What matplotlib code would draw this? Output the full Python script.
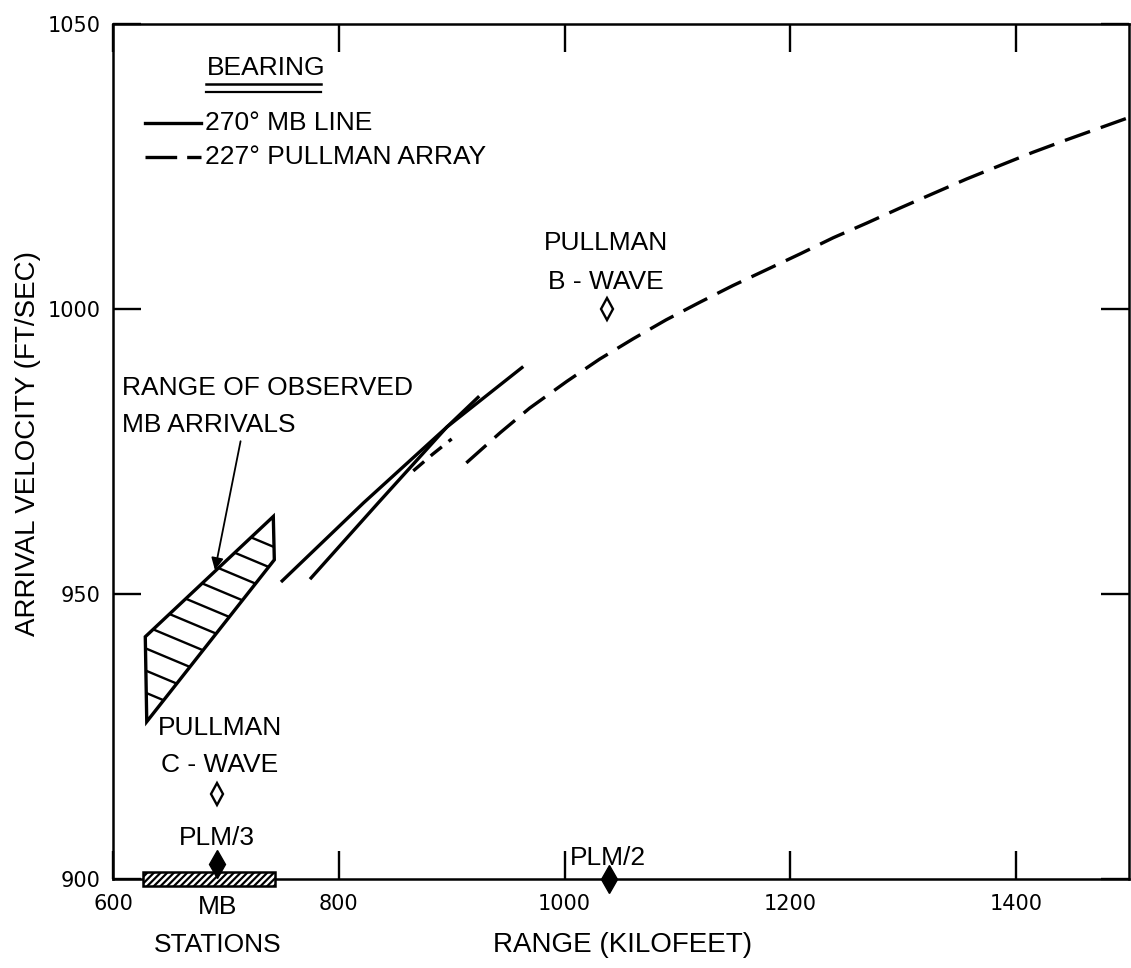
import numpy as np
import matplotlib
matplotlib.use("Agg")
import matplotlib.pyplot as plt
from matplotlib import font_manager as fm
from matplotlib.patches import Polygon, Rectangle

# ---------------- data ----------------
x_ticks = [600, 800, 1000, 1200, 1400]
y_ticks = [900, 950, 1000, 1050]

# 270 deg MB line (two solid curves)
mb_line1_x = [748.8, 822.0, 895.8, 963.4]
mb_line1_y = [952.1, 966.0, 979.3, 989.9]
mb_line2_x = [774.5, 835.0, 895.8, 924.4]
mb_line2_y = [952.6, 966.0, 979.3, 984.7]

# 227 deg Pullman array (dashed)
pull_short_x = [866.0, 883.0, 900.0]
pull_short_y = [971.6, 974.5, 977.2]
pull_long_x = [913, 943, 969, 1002, 1031, 1061, 1090, 1120, 1149, 1179,
               1209, 1238, 1268, 1297, 1327, 1356, 1386, 1415, 1445, 1500]
pull_long_y = [973.0, 978.3, 982.6, 987.3, 991.2, 994.8, 998.1, 1001.2, 1004.1, 1006.9,
               1009.7, 1012.5, 1015.1, 1017.7, 1020.3, 1022.8, 1025.2, 1027.5, 1029.7, 1033.6]

# range of observed MB arrivals (polygon)
obs_x = [628.6, 742.0, 742.9, 629.9]
obs_y = [942.5, 963.6, 956.0, 927.6]

# point observations
b_wave = (1038.0, 1000.0)
c_wave = (692.0, 915.0)
plm3 = (692.0, 902.6)
plm2 = (1039.0, 900.0)

# MB stations extent
mb_stations_x = (626.3, 743.4)

# ---------------- fonts ----------------
names = {f.name for f in fm.fontManager.ttflist}
if "Liberation Sans Narrow" in names:
    LET = ["Liberation Sans Narrow", "DejaVu Sans"]
    K = 1.18
else:
    LET = ["Liberation Sans", "DejaVu Sans"]
    K = 1.0
NUM = ["DejaVu Sans"]
FS = 19.0
FA = 20.0

plt.rcParams["hatch.linewidth"] = 1.6

fig = plt.figure(figsize=(11.31, 9.68), dpi=100)
ax = fig.add_axes([113 / 1131, 89 / 968, 1016 / 1131, 855 / 968])
ax.set_xlim(600, 1500)
ax.set_ylim(900, 1050)
ax.set_xticks(x_ticks)
ax.set_yticks(y_ticks)
ax.tick_params(direction="in", length=20, width=1.7, top=True, right=True,
               labelsize=15, pad=9)
ax.tick_params(axis="x", pad=11)
for lab in ax.get_xticklabels() + ax.get_yticklabels():
    lab.set_family(NUM)
for s in ax.spines.values():
    s.set_linewidth(1.8)


def lt(x, y, s, size=FS, **kw):
    kw.setdefault("ha", "left")
    kw.setdefault("va", "center")
    return ax.text(x, y, s, family=LET, fontsize=size * K, clip_on=False, **kw)


LW = 2.4
ax.plot(mb_line1_x, mb_line1_y, color="black", lw=LW, solid_capstyle="butt")
ax.plot(mb_line2_x, mb_line2_y, color="black", lw=LW, solid_capstyle="butt")
ax.plot(pull_short_x, pull_short_y, color="black", lw=LW, linestyle=(0, (4.3, 2.6)))
ax.plot(pull_long_x, pull_long_y, color="black", lw=LW, linestyle=(0, (8.0, 3.4)),
        clip_on=False)

# polygon with slanted hatching
poly = Polygon(np.column_stack([obs_x, obs_y]), closed=True, facecolor="white",
               edgecolor="black", lw=2.4, joinstyle="miter", zorder=3)
ax.add_patch(poly)
slope = -0.083
xa, xb = 600.0, 760.0
for y0 in np.linspace(932.6, 967.6, 10):
    ln, = ax.plot([xa, xb], [y0 + slope * (xa - 629.9), y0 + slope * (xb - 629.9)],
                  color="black", lw=1.7, zorder=3.5)
    ln.set_clip_path(poly)

# arrow
ax.annotate("", xy=(690.3, 954.2), xytext=(713.0, 976.8),
            arrowprops=dict(arrowstyle="-|>", lw=1.3, color="black",
                            mutation_scale=18, shrinkA=0, shrinkB=0), zorder=5)

# markers
ax.plot(*b_wave, marker="d", ms=11, mfc="white", mec="black", mew=1.7, ls="none")
ax.plot(*c_wave, marker="d", ms=11, mfc="white", mec="black", mew=1.7, ls="none")
ax.plot(*plm3, marker="d", ms=14, mfc="black", mec="black", ls="none", zorder=6)
ax.plot(*plm2, marker="d", ms=14, mfc="black", mec="black", ls="none", zorder=6,
        clip_on=False)

# MB stations bar
ax.add_patch(Rectangle((mb_stations_x[0], 898.8), mb_stations_x[1] - mb_stations_x[0], 2.4,
                       facecolor="white", edgecolor="black", hatch="/////", lw=1.8,
                       clip_on=False, zorder=5))

# legend (hand drawn)
lt(683.0, 1042.3, "BEARING")
ax.plot([682.4, 784.2], [1039.5, 1039.5], color="black", lw=1.8, clip_on=False)
ax.plot([682.4, 784.2], [1038.0, 1038.0], color="black", lw=1.6, clip_on=False)
ax.plot([628.3, 678.1], [1032.7, 1032.7], color="black", lw=LW)
ax.plot([628.3, 678.1], [1026.7, 1026.7], color="black", lw=LW, linestyle=(0, (9.5, 3.0)))
lt(681.6, 1032.7, "270° MB LINE")
lt(681.6, 1026.7, "227° PULLMAN ARRAY")

# annotations
lt(608.0, 986.1, "RANGE OF OBSERVED")
lt(608.0, 979.6, "MB ARRIVALS")
lt(1036.7, 1011.6, "PULLMAN", ha="center")
lt(1036.7, 1004.7, "B - WAVE", ha="center")
lt(694.8, 926.5, "PULLMAN", ha="center")
lt(694.8, 920.0, "C - WAVE", ha="center")
lt(692.1, 907.2, "PLM/3", ha="center")
lt(1004.8, 903.7, "PLM/2")
lt(692.6, 895.1, "MB", ha="center")
lt(692.6, 888.4, "STATIONS", ha="center")
lt(1051.7, 888.4, "RANGE (KILOFEET)", FA, ha="center")
fig.text(28 / 1131, 1 - 443 / 968, "ARRIVAL VELOCITY (FT/SEC)", family=LET,
         fontsize=FA * K, rotation=90, ha="center", va="center")

fig.savefig("out.png", dpi=100, facecolor="white")
